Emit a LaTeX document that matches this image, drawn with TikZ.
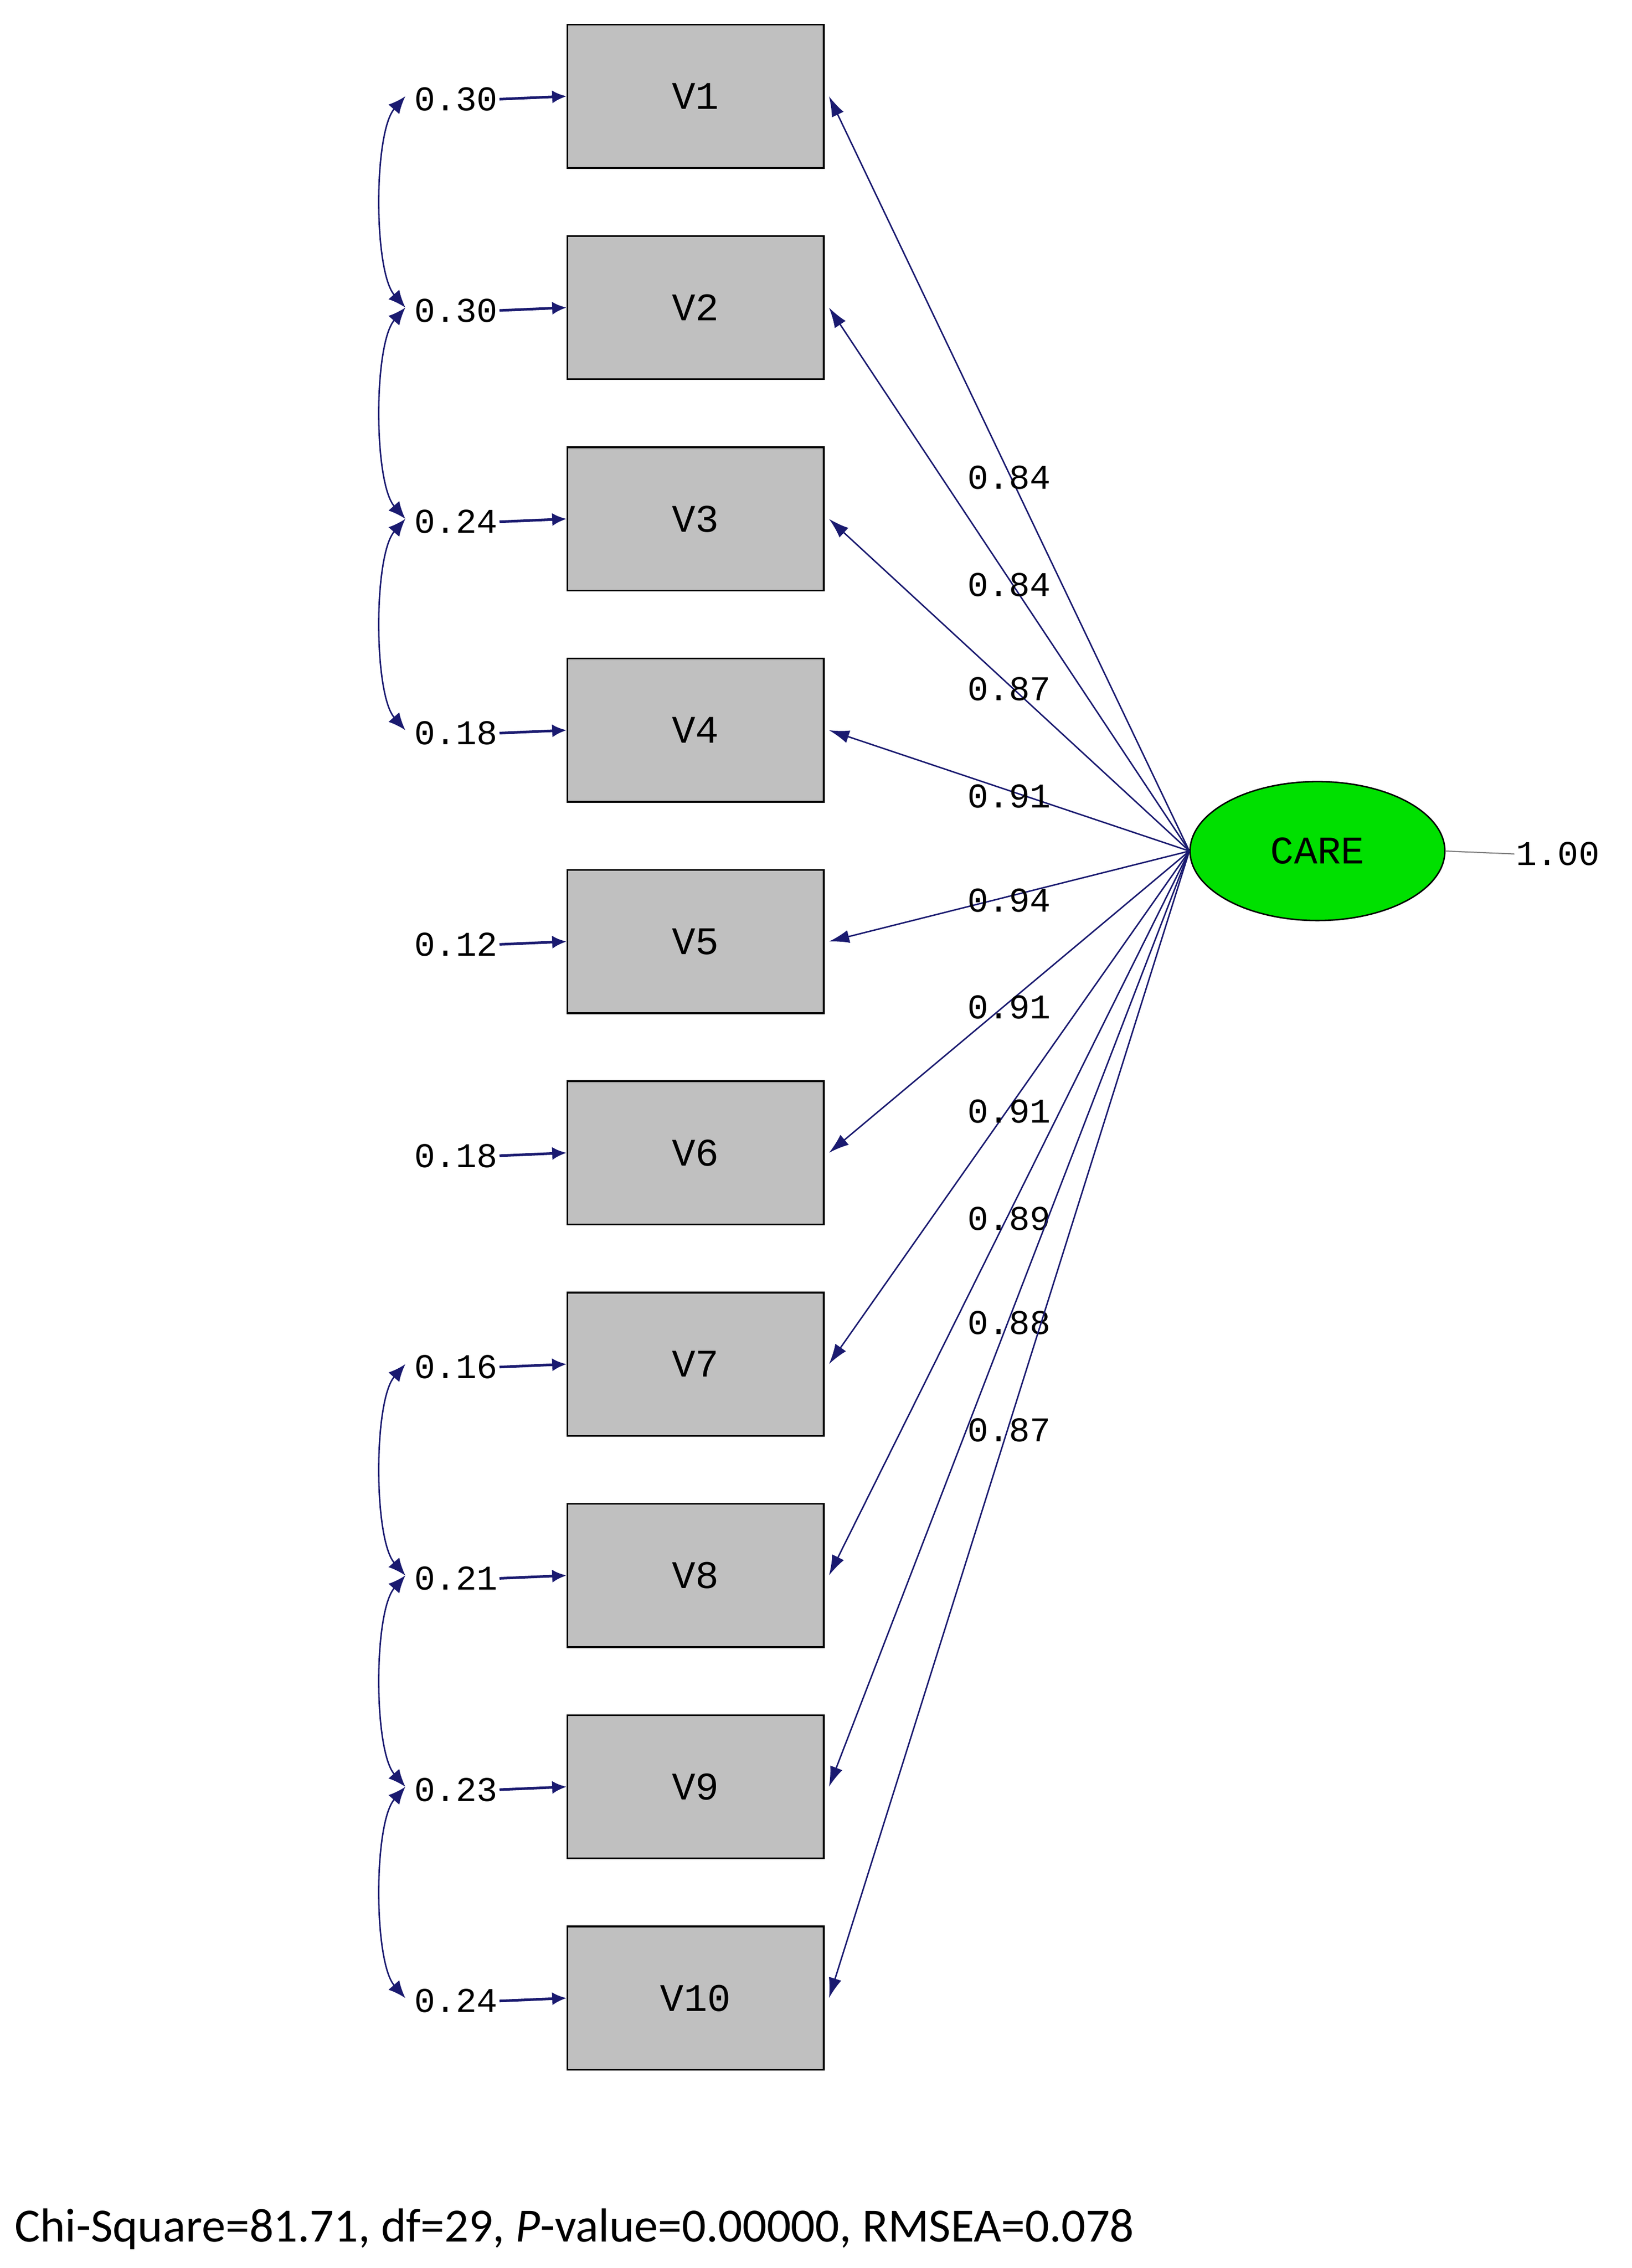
\documentclass[tikz,border=0pt]{standalone}
\usepackage{fontspec}
\setmainfont{Liberation Mono}
\newfontfamily\capfont{Carlito}
\usetikzlibrary{arrows.meta,shapes.geometric}
\definecolor{nav}{HTML}{1A1A70}
\begin{document}
\begin{tikzpicture}[x=1pt,y=-1pt,
  obs/.style={draw=black,fill={rgb,255:red,192;green,192;blue,192},minimum width=177pt,minimum height=99pt,font=\fontsize{27}{27}\selectfont,line width=1.2pt},
  lab/.style={font=\fontsize{24}{24}\selectfont,inner sep=1pt},
  ld/.style={nav,line width=1pt,-{Latex[length=14pt,width=9pt]}},
  er/.style={nav,line width=1.8pt,-{Latex[length=10pt,width=9pt]}},
  cv/.style={nav,line width=1pt,{Latex[length=12pt,width=10pt]}-{Latex[length=12pt,width=10pt]}}]
\useasboundingbox (0,0) rectangle (1127,1567);
\node[draw=black,fill={rgb,255:red,0;green,224;blue,0},ellipse,minimum width=176pt,minimum height=96pt,font=\fontsize{27}{27}\selectfont,line width=1pt] (care) at (910,588) {CARE};
\node[lab] (var) at (1076,590) {1.00};
\draw[gray,line width=0.8pt] (care.east) -- (var.west);
\foreach \i/\e/\l/\ly in {1/0.30/0.84/330,2/0.30/0.84/404,3/0.24/0.87/476,4/0.18/0.91/550,5/0.12/0.94/622,6/0.18/0.91/696,7/0.16/0.91/768,8/0.21/0.89/842,9/0.23/0.88/914,10/0.24/0.87/988}{
  \pgfmathsetmacro{\yy}{66.5+146*(\i-1)}
  \node[obs] (v\i) at (480.5,\yy) {V\i};
  \node[lab] (e\i) at (315,\yy+2) {\e};
  \coordinate (c\i) at (280,\yy);
  \draw[er] (e\i.east) -- (v\i.west);
  \draw[ld] (care.west) -- ([xshift=3pt]v\i.east);
  \node[lab] at (697,\ly) {\l};
}
\foreach \a/\b in {1/2,2/3,3/4,7/8,8/9,9/10}{
  \draw[cv] (c\a) .. controls +(-22,25) and +(-22,-25) .. (c\b);
}
\node[anchor=west,font=\capfont\fontsize{33}{33}\selectfont,inner sep=0] (fit) at (10,1540) {Chi-Square=81.71, df=29, \textit{P}-value=0.00000, RMSEA=0.078};
\end{tikzpicture}
\end{document}
